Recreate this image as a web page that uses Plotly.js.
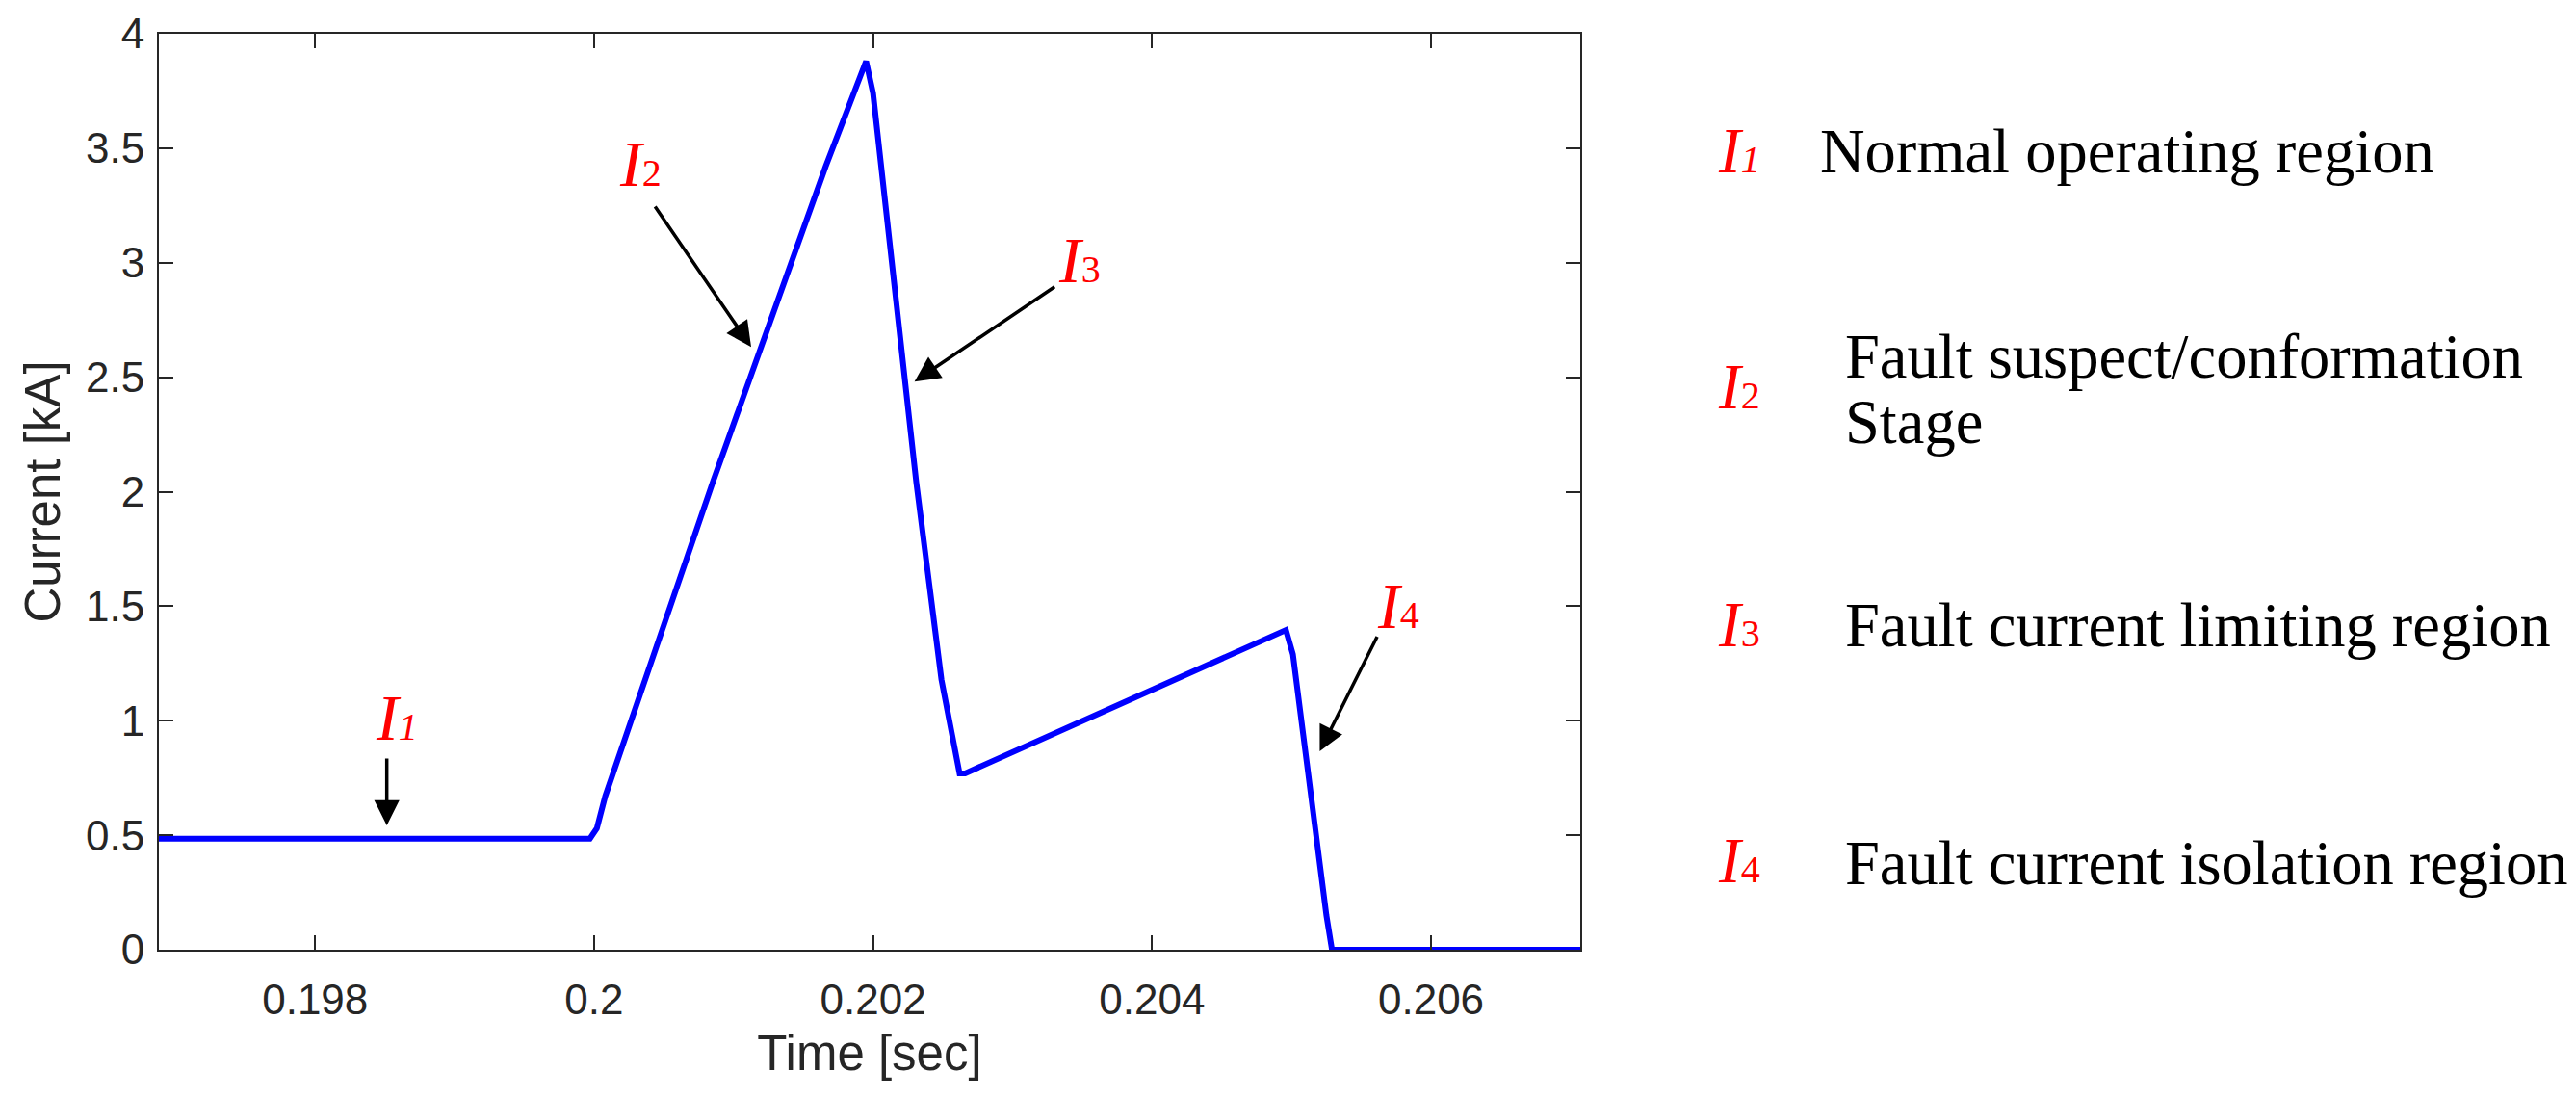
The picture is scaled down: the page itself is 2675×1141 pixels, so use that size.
<!DOCTYPE html>
<html>
<head>
<meta charset="utf-8">
<script src="https://cdn.plot.ly/plotly-3.0.1.min.js"></script>
<style>html,body{margin:0;padding:0;background:#fff;}#chart{width:2675px;height:1141px;}</style>
</head>
<body>
<div id="chart"></div>
<script>
// ---- data ----
const timeSec = [0.19688, 0.19997, 0.20002, 0.20008, 0.20085, 0.20166, 0.20195, 0.20200, 0.20231, 0.20249, 0.20262, 0.20266, 0.20496, 0.20501, 0.20525, 0.20529, 0.20707];
const currentKA = [0.485, 0.485, 0.53, 0.67, 2.04, 3.42, 3.88, 3.74, 2.04, 1.18, 0.77, 0.77, 1.396, 1.29, 0.15, 0.0, 0.0];

const xTickVals = [0.198, 0.2, 0.202, 0.204, 0.206];
const xTickText = ['0.198', '0.2', '0.202', '0.204', '0.206'];
const yTickVals = [0, 0.5, 1, 1.5, 2, 2.5, 3, 3.5, 4];
const yTickText = ['0', '0.5', '1', '1.5', '2', '2.5', '3', '3.5', '4'];

const regionIds = ['1', '2', '3', '4'];
const regionNames = ['Normal operating region', 'Fault suspect/conformation', 'Fault current limiting region', 'Fault current isolation region'];
const regionNameExtra = 'Stage';

// label and arrow anchors (data coordinates)
const labelX = [0.198587, 0.200334, 0.203482, 0.205767];
const labelY = [1.013, 3.431, 3.011, 1.501];
const arrowTailX = [0.198514, 0.200430, 0.203312, 0.205619];
const arrowTailY = [0.841, 3.251, 2.899, 1.373];
const arrowTipX = [0.198514, 0.201126, 0.202297, 0.205202];
const arrowTipY = [0.543, 2.632, 2.481, 0.866];

// ---- layout geometry ----
const W = 2675, H = 1141;
const M = {l: 165, r: 1034, t: 35, b: 155, pad: 0};
const PW = W - M.l - M.r, PH = H - M.t - M.b;
const pxX = px => (px - M.l) / PW;
const pxY = py => (H - M.b - py) / PH;

const axisColor = '#262626';
const sans = 'Liberation Sans, Arial, sans-serif';
const serif = 'Liberation Serif, Times New Roman, serif';

function iLabel(id, small) {
  const sub = id === '1' ? '<i>' + id + '</i>' : id;
  return '<i>I</i><span style="font-size:' + small + 'px">' + sub + '</span>';
}

const annotations = [];
for (let i = 0; i < regionIds.length; i++) {
  annotations.push({
    x: arrowTipX[i], y: arrowTipY[i], ax: arrowTailX[i], ay: arrowTailY[i],
    xref: 'x', yref: 'y', axref: 'x', ayref: 'y',
    text: '', showarrow: true, arrowhead: 2, arrowsize: 1.5, arrowwidth: 3.5,
    arrowcolor: '#000000', standoff: 0, startstandoff: 0
  });
  annotations.push({
    x: labelX[i], y: labelY[i], xref: 'x', yref: 'y',
    text: iLabel(regionIds[i], 40), showarrow: false,
    xanchor: 'center', yanchor: 'middle',
    font: {family: serif, size: 68, color: '#FF0000'}
  });
}

// legend-like text on the right
const legendIdY = [156, 401, 648, 893];
const legendTextX = [1888, 1914, 1914, 1914];
const legendTextY = [158, 370, 649, 896];
for (let i = 0; i < regionIds.length; i++) {
  annotations.push({
    x: pxX(1782), y: pxY(legendIdY[i]), xref: 'paper', yref: 'paper',
    text: iLabel(regionIds[i], 40), showarrow: false,
    xanchor: 'left', yanchor: 'middle',
    font: {family: serif, size: 68, color: '#FF0000'}
  });
  annotations.push({
    x: pxX(legendTextX[i]), y: pxY(legendTextY[i]), xref: 'paper', yref: 'paper',
    text: regionNames[i], showarrow: false,
    xanchor: 'left', yanchor: 'middle',
    font: {family: serif, size: 64.5, color: '#000000'}
  });
}
annotations.push({
  x: pxX(1914), y: pxY(438), xref: 'paper', yref: 'paper',
  text: regionNameExtra, showarrow: false,
  xanchor: 'left', yanchor: 'middle',
  font: {family: serif, size: 64.5, color: '#000000'}
});

const trace = {
  x: timeSec, y: currentKA, type: 'scatter', mode: 'lines',
  line: {color: '#0000FF', width: 6},
  hoverinfo: 'skip', showlegend: false, cliponaxis: false
};

const commonAxis = {
  showline: true, linewidth: 2, linecolor: axisColor, mirror: 'ticks',
  ticks: 'inside', ticklen: 15, tickwidth: 2, tickcolor: axisColor,
  showgrid: false, zeroline: false,
  tickfont: {family: sans, size: 44, color: axisColor}
};

const layout = {
  width: W, height: H, margin: M,
  paper_bgcolor: '#FFFFFF', plot_bgcolor: '#FFFFFF',
  showlegend: false,
  xaxis: Object.assign({}, commonAxis, {
    range: [0.19688, 0.20707], tickmode: 'array', tickvals: xTickVals, ticktext: xTickText,
    ticklabelstandoff: 12,
    title: {text: 'Time [sec]', font: {family: sans, size: 51, color: axisColor}, standoff: 15}
  }),
  yaxis: Object.assign({}, commonAxis, {
    range: [0, 4], tickmode: 'array', tickvals: yTickVals, ticktext: yTickText,
    ticklabelstandoff: 4,
    title: {text: 'Current [kA]', font: {family: sans, size: 51, color: axisColor}, standoff: 10}
  }),
  annotations: annotations
};

Plotly.newPlot('chart', [trace], layout, {staticPlot: true, displayModeBar: false});
</script>
</body>
</html>
